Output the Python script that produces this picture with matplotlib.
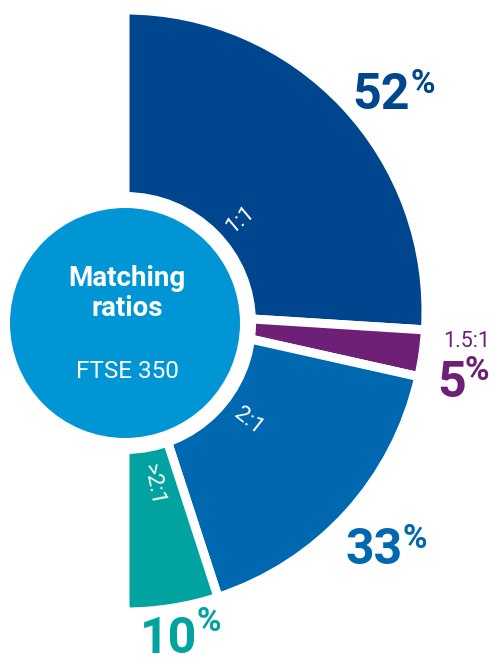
import matplotlib
matplotlib.use("Agg")
import matplotlib.pyplot as plt
from matplotlib.patches import Circle

# ---- data ----
categories = ["1:1", "1.5:1", "2:1", ">2:1"]
shares = [52, 5, 33, 10]
share_labels = ["52", "5", "33", "10"]
colors = ["#00468e", "#6e2077", "#0068b1", "#00a39f"]
center_title = ["Matching", "ratios"]
center_sub = "FTSE 350"

W, H = 495, 657
plt.rcParams["font.family"] = ["Roboto", "DejaVu Sans"]

fig = plt.figure(figsize=(W / 100, H / 100), dpi=100)
ax = fig.add_axes([0, 0, 1, 1])

def Y(y):
    return H - y

c_out = (125, Y(311))
c_in = (125, Y(323))
gap_px = 9

wedges, _ = ax.pie(shares + [sum(shares)], colors=colors + ["none"],
                   startangle=90, counterclock=False, radius=301,
                   center=c_out,
                   wedgeprops=dict(edgecolor="white", linewidth=gap_px * 0.72))
wedges[-1].set_visible(False)

ax.add_patch(Circle(c_in, 131, facecolor="white", edgecolor="none", zorder=3))
ax.add_patch(Circle(c_in, 115, facecolor="#0096d6", edgecolor="none", zorder=4))

ax.set_xlim(0, W)
ax.set_ylim(0, H)
ax.set_aspect("equal")
ax.axis("off")

# center labels
ax.text(127, Y(279), center_title[0], ha="center", va="center", color="white",
        fontsize=20, fontweight="bold", zorder=5)
ax.text(127, Y(308), center_title[1], ha="center", va="center", color="white",
        fontsize=20, fontweight="bold", zorder=5)
ax.text(127, Y(371), center_sub, ha="center", va="center", color="white",
        fontsize=17.5, fontweight="normal", zorder=5)

# ratio labels inside wedges (radial)
ratio_pos = {"1:1": (240, 220, 40), "2:1": (248, 421, -38), ">2:1": (153, 485, -79)}
for cat in ["1:1", "2:1", ">2:1"]:
    x, y, rot = ratio_pos[cat]
    ax.text(x, Y(y), cat, ha="center", va="center", rotation=rot,
            rotation_mode="anchor", color="white", fontsize=16,
            fontweight="normal", zorder=5)

# 1.5:1 outside label
ax.text(467, Y(347), categories[1], ha="center", va="baseline", color=colors[1],
        fontsize=15.5, fontweight="normal")

# percentage labels: (number right edge, baseline, % left, % baseline)
pct_pos = [(410, 109, 410, 93), (466, 397, 465, 380), (403, 564, 402, 548), (197, 653, 196, 631)]
for lab, col, (xr, yb, xp, yp) in zip(share_labels, colors, pct_pos):
    ax.text(xr, Y(yb), lab, ha="right", va="baseline", color=col,
            fontsize=36, fontweight="bold")
    ax.text(xp, Y(yp), "%", ha="left", va="baseline", color=col,
            fontsize=24, fontweight="bold")

fig.savefig("out.png", dpi=100)
